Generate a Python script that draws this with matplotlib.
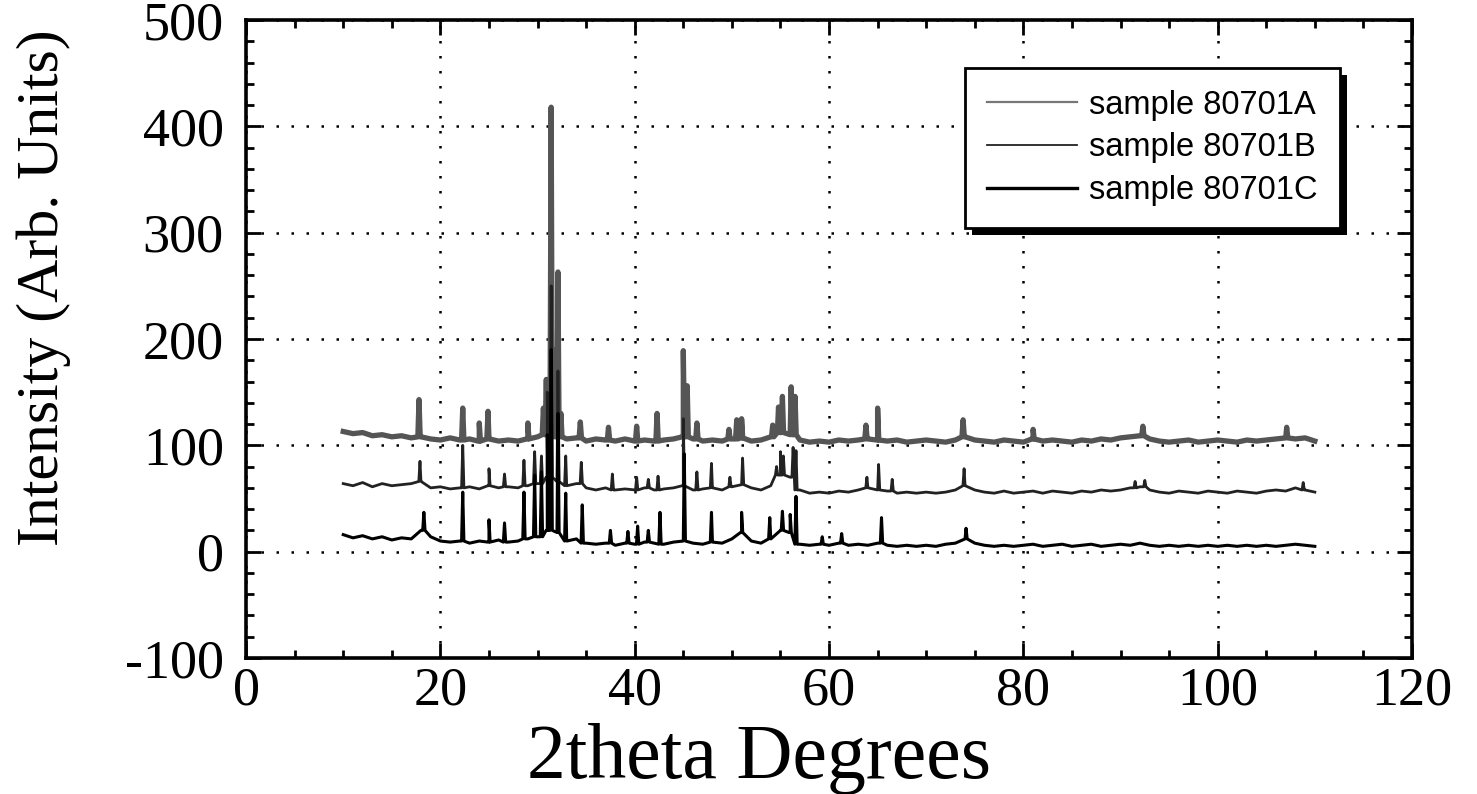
import numpy as np
import matplotlib
matplotlib.use("Agg")
import matplotlib.pyplot as plt
from matplotlib.ticker import MultipleLocator
from matplotlib.lines import Line2D
from matplotlib.patches import Rectangle

# ---------------- data ----------------
# baseline every 1 degree, 10..110
base_x = list(range(10, 111))

base_a = [113, 111, 112, 109, 110, 108, 109, 107, 108, 106,
          105, 107, 105, 106, 104, 106, 104, 105, 104, 106,
          108, 110, 108, 106, 107, 104, 106, 105, 104, 106,
          104, 105, 104, 105, 106, 108, 106, 104, 105, 104,
          106, 107, 104, 105, 108, 112, 110, 105, 103, 104,
          103, 105, 104, 105, 106, 105, 104, 105, 103, 104,
          105, 104, 103, 105, 108, 105, 104, 103, 105, 104,
          103, 106, 104, 105, 104, 103, 105, 104, 106, 105,
          107, 108, 109, 106, 104, 103, 104, 105, 103, 104,
          105, 104, 103, 105, 104, 105, 106, 107, 106, 107, 104]

base_b = [64, 62, 65, 61, 64, 62, 63, 64, 66, 60,
          61, 59, 60, 61, 59, 62, 60, 61, 60, 62,
          64, 70, 66, 62, 64, 60, 58, 60, 58, 59,
          58, 60, 58, 59, 60, 62, 58, 59, 60, 58,
          61, 63, 60, 58, 62, 72, 70, 58, 55, 56,
          55, 57, 56, 58, 60, 58, 57, 55, 56, 55,
          56, 55, 56, 58, 62, 58, 56, 55, 57, 55,
          56, 57, 55, 57, 56, 55, 57, 56, 58, 57,
          58, 60, 61, 58, 56, 55, 57, 56, 55, 57,
          56, 55, 57, 56, 55, 57, 58, 57, 60, 58, 56]

base_c = [16, 13, 15, 12, 14, 11, 13, 12, 20, 14,
          10, 9, 10, 8, 10, 9, 11, 9, 10, 12,
          14, 20, 18, 10, 12, 8, 7, 8, 6, 8,
          7, 9, 8, 7, 9, 10, 8, 7, 9, 8,
          12, 18, 10, 8, 12, 20, 18, 7, 6, 7,
          6, 8, 6, 7, 6, 8, 6, 5, 6, 5,
          6, 5, 7, 8, 12, 8, 6, 5, 6, 5,
          6, 7, 5, 6, 7, 5, 6, 7, 5, 6,
          7, 6, 8, 6, 5, 6, 5, 6, 5, 6,
          5, 6, 5, 6, 5, 6, 5, 6, 7, 6, 5]

# peaks: position (2theta) and top intensity
peak_a_x = [17.8, 22.3, 24.0, 24.9, 29.0, 30.6, 30.9, 31.4, 31.7, 32.1, 32.4,
            34.4, 37.3, 40.2, 42.3, 45.0, 45.4, 46.4, 49.7, 50.5, 51.0,
            54.2, 54.8, 55.2, 56.1, 56.5, 63.8, 65.0, 73.8, 81.0, 92.3, 107.1]
peak_a_y = [143, 135, 121, 132, 121, 135, 162, 418, 190, 263, 130,
            122, 117, 118, 130, 189, 156, 121, 115, 124, 125,
            119, 136, 146, 155, 146, 119, 135, 124, 115, 118, 117]

peak_b_x = [17.9, 22.3, 25.0, 26.6, 28.6, 29.7, 30.4, 31.0, 31.4, 32.1, 32.9,
            34.5, 37.7, 40.2, 41.4, 42.4, 45.0, 46.4, 47.9, 49.8, 51.1,
            54.6, 55.0, 55.3, 56.3, 56.6, 63.9, 65.1, 66.5, 73.9, 91.5, 92.5, 108.8]
peak_b_y = [85, 100, 78, 73, 86, 94, 90, 150, 250, 170, 90,
            84, 73, 70, 68, 71, 125, 75, 83, 70, 88,
            80, 94, 90, 98, 95, 70, 82, 68, 78, 66, 67, 65]

peak_c_x = [18.3, 22.3, 25.0, 26.6, 28.6, 29.7, 30.4, 31.0, 31.4, 32.1, 32.9,
            34.6, 37.5, 39.3, 40.3, 41.4, 42.6, 45.1, 47.9, 51.0, 53.9,
            55.2, 56.0, 56.6, 59.3, 61.3, 65.4, 74.1]
peak_c_y = [37, 56, 30, 27, 56, 72, 75, 110, 190, 130, 55,
            44, 20, 19, 24, 20, 37, 92, 37, 37, 32,
            38, 35, 52, 14, 17, 32, 22]

labels = ["sample 80701A", "sample 80701B", "sample 80701C"]


def trace(bx, by, px, py, half=0.12):
    """baseline samples + narrow peaks -> one sorted trace"""
    bx = np.asarray(bx, float)
    by = np.asarray(by, float)
    xs, ys = list(bx), list(by)
    for p, h in zip(px, py):
        foot = by[np.argmin(np.abs(bx - p))]
        xs += [p - half, p, p + half]
        ys += [foot, h, foot]
    order = np.argsort(xs, kind="stable")
    return np.asarray(xs)[order], np.asarray(ys)[order]


# ---------------- plot ----------------
plt.rcParams["font.family"] = ["Liberation Serif", "DejaVu Serif"]
plt.rcParams["axes.unicode_minus"] = False

fig = plt.figure(figsize=(14.77, 7.94), dpi=100)
ax = fig.add_axes([0.1666, 0.1713, 0.7894, 0.8035])

xa, ya = trace(base_x, base_a, peak_a_x, peak_a_y)
xb, yb = trace(base_x, base_b, peak_b_x, peak_b_y)
xc, yc = trace(base_x, base_c, peak_c_x, peak_c_y)

ax.plot(xa, ya, color="#555555", lw=3.8, zorder=3)
ax.plot(xb, yb, color="#222222", lw=2.0, zorder=4)
ax.plot(xc, yc, color="black", lw=2.2, zorder=5)

ax.set_xlim(0, 120)
ax.set_ylim(-100, 500)
ax.xaxis.set_major_locator(MultipleLocator(20))
ax.xaxis.set_minor_locator(MultipleLocator(5))
ax.yaxis.set_major_locator(MultipleLocator(100))
ax.yaxis.set_minor_locator(MultipleLocator(20))

ax.tick_params(which="both", direction="in", top=True, right=True,
               width=2.0, labelsize=39)
ax.tick_params(axis="x", which="major", pad=6)
ax.tick_params(axis="y", which="major", pad=16)
ax.tick_params(which="major", length=11)
ax.tick_params(which="minor", length=6)
for s in ax.spines.values():
    s.set_linewidth(2.6)

ax.grid(True, which="major", color="black", linestyle=(0, (1, 5)), lw=1.8)
ax.set_axisbelow(True)

ax.set_xlabel("2theta Degrees", fontsize=56)
ax.set_ylabel("Intensity (Arb. Units)", fontsize=43)
ax.xaxis.set_label_coords(0.44, -0.102)
ax.yaxis.set_label_coords(-0.15, 0.58)

handles = [Line2D([], [], color="#777777", lw=1.6),
           Line2D([], [], color="#222222", lw=1.3),
           Line2D([], [], color="black", lw=2.4)]
leg = ax.legend(handles, labels, loc="upper right",
                bbox_to_anchor=(0.938, 0.925), borderaxespad=0,
                fancybox=False, edgecolor="black", framealpha=1,
                handlelength=2.76, handletextpad=0.37,
                labelspacing=0.36, borderpad=0.67,
                prop={"family": ["Liberation Sans", "DejaVu Sans"], "size": 23.5})
leg.get_frame().set_linewidth(2.0)
leg.set_zorder(10)

# heavy drop shadow behind the legend box
fig.canvas.draw()
bb = leg.get_window_extent()
ax.add_patch(Rectangle((bb.x0 + 7, bb.y0 - 7), bb.width, bb.height,
                       transform=None, facecolor="black", edgecolor="none",
                       zorder=9, clip_on=False))

fig.savefig("out.png", dpi=100, facecolor="white")
